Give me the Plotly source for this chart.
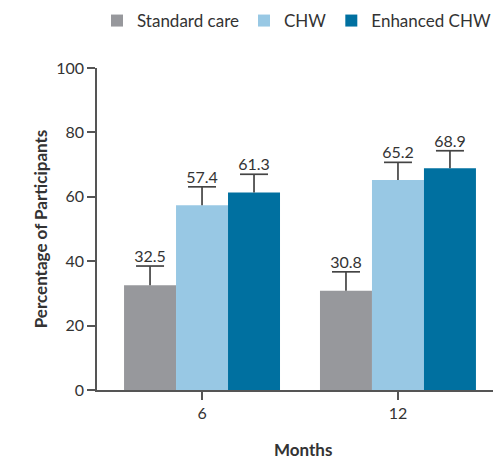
import plotly.graph_objects as go

months = ["6", "12"]
groups = ["Standard care", "CHW", "Enhanced CHW"]
values = {
    "Standard care": [32.5, 30.8],
    "CHW": [57.4, 65.2],
    "Enhanced CHW": [61.3, 68.9],
}
upper_err = {
    "Standard care": [6.0, 5.9],
    "CHW": [5.7, 5.5],
    "Enhanced CHW": [5.7, 5.4],
}
colors = {
    "Standard care": "#97989c",
    "CHW": "#98c8e4",
    "Enhanced CHW": "#0070a0",
}

FONT = "Lato"
TEXT = "#333333"
AXIS = "#555555"
WHISKER = "#444444"

fig = go.Figure()
for g in groups:
    # one-sided whisker without caps; the upper cap is drawn as a marker below
    fig.add_trace(go.Bar(
        name=g, x=months, y=values[g], offsetgroup=g,
        marker=dict(color=colors[g], line=dict(width=0)),
        error_y=dict(type="data", array=upper_err[g], symmetric=False,
                     arrayminus=[0] * len(months), color=WHISKER,
                     thickness=1.7, width=0),
    ))
for g in groups:
    tops = [v + e for v, e in zip(values[g], upper_err[g])]
    # upper cap of each whisker
    fig.add_trace(go.Scatter(
        x=months, y=tops, offsetgroup=g, mode="markers",
        marker=dict(symbol="line-ew", size=20,
                    line=dict(color=WHISKER, width=1.7)),
        showlegend=False, hoverinfo="skip", cliponaxis=False,
    ))
    # value label just above the cap
    fig.add_trace(go.Scatter(
        x=months, y=tops, offsetgroup=g, mode="text",
        text=[f"{v:.1f}" for v in values[g]], textposition="top center",
        textfont=dict(family=FONT, size=16, color=TEXT),
        showlegend=False, hoverinfo="skip", cliponaxis=False,
    ))

fig.update_layout(
    width=496, height=459,
    margin=dict(l=97, r=3, t=68, b=69),
    paper_bgcolor="white", plot_bgcolor="white",
    barmode="group", bargap=0.204, bargroupgap=0,
    scattermode="group", scattergap=0.204,
    font=dict(family=FONT, size=16, color=TEXT),
    showlegend=True,
    legend=dict(orientation="h", x=1.0, xanchor="right",
                y=1 - 21 / 459, yanchor="middle",
                yref="container", xref="container",
                font=dict(family=FONT, size=17, color=TEXT),
                itemwidth=30, tracegroupgap=0),
    xaxis=dict(
        type="category", range=[-0.536, 1.485],
        showline=True, linecolor=AXIS, linewidth=1.6,
        ticks="outside", ticklen=8, tickwidth=1.6, tickcolor=AXIS,
        tickfont=dict(family=FONT, size=16, color=TEXT),
        showgrid=False, zeroline=False,
    ),
    yaxis=dict(
        range=[0, 100], dtick=20,
        showline=True, linecolor=AXIS, linewidth=1.6,
        ticks="outside", ticklen=8, tickwidth=1.6, tickcolor=AXIS,
        tickfont=dict(family=FONT, size=16, color=TEXT),
        showgrid=False, zeroline=False,
        title=dict(text="<b>Percentage of Participants</b>",
                   font=dict(family=FONT, size=17, color=TEXT), standoff=4),
    ),
    annotations=[dict(
        text="<b>Months</b>", xref="paper", yref="paper",
        x=(303 - 97) / (496 - 100), y=-(450 - 390) / (459 - 137),
        xanchor="center", yanchor="middle", showarrow=False,
        font=dict(family=FONT, size=17, color=TEXT),
    )],
)

fig.write_html("out.html")
